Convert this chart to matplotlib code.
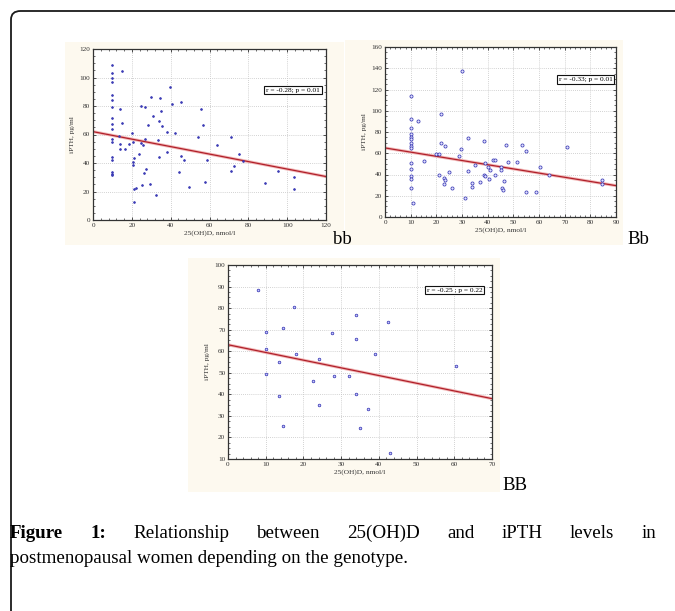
import matplotlib
matplotlib.use("Agg")
import matplotlib.pyplot as plt
from matplotlib.patches import FancyBboxPatch, Rectangle
from matplotlib.ticker import MultipleLocator, AutoMinorLocator

W, H = 675, 611
DPI = 100

# ---------------- data ----------------
# Panel bb
bb_x = [10]*17 + [15, 39.6, 29.9, 34.5, 45.2, 40.5, 24.5, 27, 13.9, 34.9, 31.1, 14.9, 34.2,
                   28.2, 35.7, 37.9, 42.1, 20.3, 13.4, 26.8, 33.7, 13.9, 18.7, 16.7, 14.1,
                   20.6, 24.8, 25.7, 37.9, 23.9, 21.3, 34.1, 45.2, 47.1, 20.4, 20.6, 27.1,
                   26.1, 29.2, 25.4, 22.4, 21.3, 32.4, 21.3, 44.5, 49.6, 54.1, 55.6, 56.5,
                   58.9, 57.7, 63.7, 71, 75, 77.4, 71.2, 72.5, 88.6, 95.1, 103.5, 103.7]
bb_y = [108.7, 102.9, 99.8, 96.5, 87.6, 84.1, 79.4, 71.7, 67.3, 64.2, 56.7, 54.8, 44.3, 42.0,
        33.8, 32.6, 31.4,
        104.8, 93.3, 86, 85.3, 83, 81.2, 80.3, 79.5, 78, 76.7, 73.2, 68.3, 69.8,
        66.6, 66.2, 62, 61, 61.3, 59.1, 56.8, 56.3, 53, 53, 49.7, 49.7,
        54.5, 53.8, 52.4, 47.8, 46.2, 43.4, 44.4, 44.8, 41.8, 40.8, 38.5, 35.7,
        33.1, 25.6, 24.4, 22.5, 21.6, 17.4, 12.7, 33.4, 23.1, 58.5, 78, 66.5,
        42.1, 27, 52.4, 58.5, 46.3, 41.6, 34.3, 37.6, 25.9, 34.3, 30.3, 21.7]
bb_fit = (62.0, 30.5)          # line value at x-min and x-max
bb_note = "r = -0.28; p = 0.01"

# Panel Bb
Bb_x = [10]*14 + [11, 13, 15, 20, 21, 21, 22, 22, 23.5, 23, 23.5, 23, 25, 26, 29.5, 29, 30,
                  31, 32.5, 32.5, 34, 34, 35, 37, 38.5, 39, 38.5, 39, 40, 40.5, 41, 42, 43,
                  43, 45, 45, 45.5, 46, 46.5, 47, 48, 51.5, 53.5, 55, 55, 59, 60.5, 64, 71,
                  84.5, 84.5]
Bb_y = [114, 92, 84, 78, 75, 73, 70, 67, 65, 51, 45, 39, 36, 27,
        13.5, 90, 53, 59.5, 59, 40, 97, 69.5, 67, 37, 34.5, 31, 42, 27, 64, 57, 137,
        17.5, 74, 43, 32, 28, 48.5, 33, 72, 50.5, 39.5, 39, 47, 36, 44.5, 53.5, 53.5,
        40, 47, 44, 27, 25, 34, 68, 52, 51.5, 68, 62.5, 24, 24, 47.5, 40, 65.5,
        34.5, 31]
Bb_fit = (65.0, 29.5)
Bb_note = "r = -0.33; p = 0.01"

# Panel BB
BB_x = [8, 17.5, 34, 42.5, 10, 14.5, 27.5, 34, 10, 18, 39, 24, 13.5, 60.5, 10, 28, 32,
        22.5, 34, 13.5, 24, 37, 14.5, 35, 43]
BB_y = [88.5, 80.5, 77, 73.5, 69, 71, 68.5, 65.5, 61, 58.5, 58.5, 56.5, 55, 53, 49.5,
        48.5, 48.5, 46, 40, 39, 35, 33, 25.5, 24.5, 13]
BB_fit = (63.0, 38.0)
BB_note = "r = -0.25 ; p = 0.22"

x_label = "25(OH)D, nmol/l"
y_label = "iPTH, pg/ml"
caption_bold = ["Figure", "1:"]
caption_line1 = ["Relationship", "between", "25(OH)D", "and", "iPTH", "levels", "in"]
caption_line2 = "postmenopausal women depending on the genotype."

# ---------------- figure ----------------
fig = plt.figure(figsize=(W / DPI, H / DPI), dpi=DPI)
fig.patch.set_facecolor("white")


def fx(px):
    return px / W


def fy(py):
    return 1 - py / H


# outer rounded border (extends past right and bottom edges)
border = FancyBboxPatch((fx(11), fy(700)), fx(700 - 11), (700 - 11) / H,
                        boxstyle="round,pad=0,rounding_size=0.014",
                        transform=fig.transFigure, fill=False,
                        edgecolor="#1a1a1a", linewidth=1.3, clip_on=False, zorder=-2)
fig.patches.append(border)

cream = "#fdf9ef"
for (l, t, r, b) in [(65, 42, 344, 245), (345, 40, 623, 245), (188, 258, 500, 492)]:
    fig.patches.append(Rectangle((fx(l), fy(b)), fx(r - l), (b - t) / H,
                                 transform=fig.transFigure, facecolor=cream,
                                 edgecolor="none", zorder=-1))

serif = ["Liberation Serif", "DejaVu Serif"]


def make_panel(box, xs, ys, xlim, ylim, xstep, ystep, fit, note, note_pos,
               msize, mface, label, label_pos):
    l, t, r, b = box
    ax = fig.add_axes([fx(l), fy(b), fx(r - l), (b - t) / H])
    ax.set_zorder(1)
    ax.set_facecolor("white")
    ax.set_xlim(*xlim)
    ax.set_ylim(*ylim)
    ax.xaxis.set_major_locator(MultipleLocator(xstep))
    ax.yaxis.set_major_locator(MultipleLocator(ystep))
    ax.xaxis.set_minor_locator(AutoMinorLocator(5))
    ax.yaxis.set_minor_locator(AutoMinorLocator(4))
    ax.grid(True, which="major", linestyle=(0, (1, 1.5)), color="#c4c4c4", linewidth=0.6)
    ax.set_axisbelow(True)
    ax.tick_params(which="both", direction="in", top=True, right=True,
                   labelsize=5.2, pad=2, colors="#333333")
    ax.tick_params(which="major", length=2.5, width=0.6)
    ax.tick_params(which="minor", length=1.5, width=0.5)
    for lab in ax.get_xticklabels() + ax.get_yticklabels():
        lab.set_family(serif)
    for s in ax.spines.values():
        s.set_color("#333333")
        s.set_linewidth(0.9)
    ax.scatter(xs, ys, s=msize, facecolor=mface, edgecolor="#3838b4",
               linewidths=0.55, zorder=3)
    ax.plot([xlim[0], xlim[1]], [fit[0], fit[1]], color="#f2b8b8", lw=2.2,
            solid_capstyle="butt", zorder=2)
    ax.plot([xlim[0], xlim[1]], [fit[0], fit[1]], color="#b0202a", lw=0.9, zorder=2)
    ax.text(note_pos[0], note_pos[1], note, transform=ax.transAxes, fontsize=5.3,
            family=serif, ha="center", va="center",
            bbox=dict(boxstyle="square,pad=0.25", facecolor="white",
                      edgecolor="#111111", linewidth=0.8), zorder=5)
    ax.set_xlabel(x_label, fontsize=5.3, family=serif, labelpad=2, color="#333333")
    ax.set_ylabel(y_label, fontsize=5.3, family=serif, labelpad=3, color="#333333")
    fig.text(fx(label_pos[0]), fy(label_pos[1]), label, fontsize=13.5, family=serif,
             ha="left", va="baseline")
    return ax


make_panel((93, 49, 326, 220), bb_x, bb_y, (0, 120), (0, 120), 20, 20, bb_fit,
           bb_note, (0.858, 0.76), 1.6, "#4040b8", "bb", (333, 244))
make_panel((385, 47, 616, 217), Bb_x, Bb_y, (0, 90), (0, 160), 10, 20, Bb_fit,
           Bb_note, (0.868, 0.81), 5, "#e4e4ff", "Bb", (627, 244))
make_panel((228, 265, 492, 459), BB_x, BB_y, (0, 70), (10, 100), 10, 10, BB_fit,
           BB_note, (0.858, 0.871), 3.5, "#c8c8ff", "BB", (502, 490))

# ---------------- caption ----------------
cap_size = 13.5
fig.canvas.draw()
renderer = fig.canvas.get_renderer()


def width_px(s, bold=False):
    t = fig.text(0, 0, s, fontsize=cap_size, family=serif,
                 fontweight="bold" if bold else "normal")
    w = t.get_window_extent(renderer).width
    t.remove()
    return w


# fit line-2 to its measured width in the reference
target2 = 399
w2 = width_px(caption_line2)
cap_size = cap_size * target2 / w2

words = [(w, True) for w in caption_bold] + [(w, False) for w in caption_line1]
widths = [width_px(w, b) for w, b in words]
left, right = 10, 656
gap = (right - left - sum(widths)) / (len(words) - 1)
x = left
for (w, b), wd in zip(words, widths):
    fig.text(fx(x), fy(538), w, fontsize=cap_size, family=serif,
             fontweight="bold" if b else "normal", ha="left", va="baseline")
    x += wd + gap

fig.text(fx(10), fy(563), caption_line2, fontsize=cap_size, family=serif,
         ha="left", va="baseline")

fig.savefig("out.png", dpi=DPI, facecolor="white")
